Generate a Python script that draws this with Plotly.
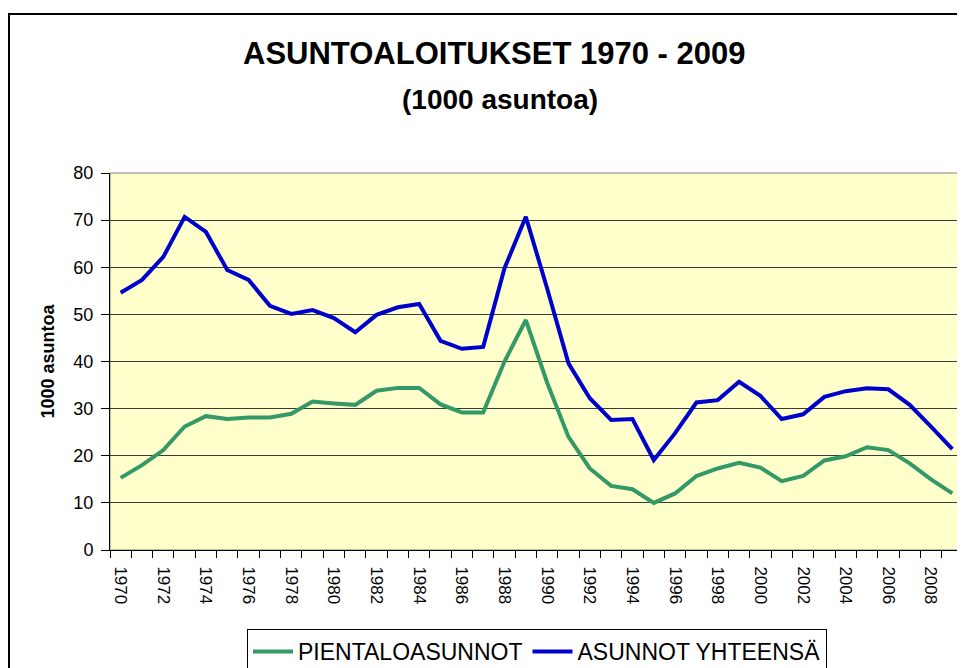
import plotly.graph_objects as go

years = [str(y) for y in range(1970, 2010)]
pientalo = [15.3, 18.0, 21.2, 26.2, 28.4, 27.8, 28.1, 28.1, 28.9, 31.5,
            31.1, 30.8, 33.8, 34.4, 34.4, 30.9, 29.2, 29.2, 40.0, 48.8,
            35.5, 24.0, 17.3, 13.6, 12.9, 10.0, 12.0, 15.7, 17.3, 18.5,
            17.5, 14.6, 15.7, 19.0, 19.9, 21.8, 21.2, 18.4, 15.0, 12.0]
yhteensa = [54.6, 57.3, 62.2, 70.7, 67.5, 59.4, 57.3, 51.8, 50.1, 50.9,
            49.2, 46.2, 49.9, 51.5, 52.2, 44.4, 42.7, 43.1, 59.8, 70.7,
            55.5, 39.6, 32.2, 27.6, 27.8, 19.1, 24.8, 31.3, 31.8, 35.7,
            32.7, 27.8, 28.8, 32.5, 33.7, 34.3, 34.1, 30.8, 26.2, 21.4]
tick_text = [y if int(y) % 2 == 0 else "" for y in years]
yticks = [0, 10, 20, 30, 40, 50, 60, 70, 80]

# page has an 8px body margin; work in page pixel coords and offset
OFF = 8
W, H = 965 - OFF, 668 - OFF
L, R, T, B = 110 - OFF, 963 - OFF, 173 - OFF, 550 - OFF
pw, ph = R - L, B - T

def px(x):
    return (x - OFF - L) / pw

def py(y):
    return (B - (y - OFF)) / ph

fig = go.Figure()
fig.add_trace(go.Scatter(x=years, y=pientalo, mode="lines", name="PIENTALOASUNNOT",
                         line=dict(color="#339966", width=4)))
fig.add_trace(go.Scatter(x=years, y=yhteensa, mode="lines", name="ASUNNOT YHTEENSÄ",
                         line=dict(color="#0000CC", width=4)))

font = "Liberation Sans, Arial, sans-serif"
fig.update_layout(
    width=W, height=H,
    margin=dict(l=L, r=W - R, t=T, b=H - B, pad=0, autoexpand=False),
    paper_bgcolor="white", plot_bgcolor="#FFFFCC",
    font=dict(family=font, color="black"),
    showlegend=True,
    legend=dict(orientation="h", x=px(537), xanchor="center", y=py(629), yanchor="top",
                bordercolor="black", borderwidth=1, bgcolor="white",
                font=dict(size=23, color="black"), itemwidth=40,
                traceorder="normal"),
    xaxis=dict(type="category", tickmode="array", tickvals=years, ticktext=tick_text,
               tickson="boundaries", ticks="outside", ticklen=7, tickcolor="black",
               tickangle=90, tickfont=dict(size=17, color="black"), ticklabelstandoff=12,
               showline=True, linecolor="black", linewidth=1, showgrid=False,
               zeroline=False, range=[-0.5, 39.5], automargin=False),
    yaxis=dict(range=[0, 80], tickvals=yticks, ticks="outside", ticklen=8, tickcolor="black",
               tickfont=dict(size=18, color="black"), ticklabelstandoff=4,
               showline=True, linecolor="black", automargin=False,
               linewidth=1, showgrid=True, gridcolor="#3a3a3a", gridwidth=1, zeroline=False,
               title=dict(text="<b>1000 asuntoa</b>", font=dict(size=18, color="black"),
                          standoff=14)),
    shapes=[
        dict(type="rect", xref="paper", yref="paper", x0=0, x1=1, y0=0, y1=1,
             line=dict(color="#808080", width=1), layer="below"),
        dict(type="rect", xref="paper", yref="paper", x0=px(9), x1=px(990), y0=py(700), y1=py(14),
             line=dict(color="black", width=2)),
    ],
    annotations=[
        dict(text="<b>ASUNTOALOITUKSET 1970 - 2009</b>", xref="paper", yref="paper",
             x=px(494), y=py(54), xanchor="center", yanchor="middle", showarrow=False,
             font=dict(size=31, color="black")),
        dict(text="<b>(1000 asuntoa)</b>", xref="paper", yref="paper",
             x=px(500), y=py(99), xanchor="center", yanchor="middle", showarrow=False,
             font=dict(size=28, color="black")),
    ],
)

fig.write_html("out.html")
